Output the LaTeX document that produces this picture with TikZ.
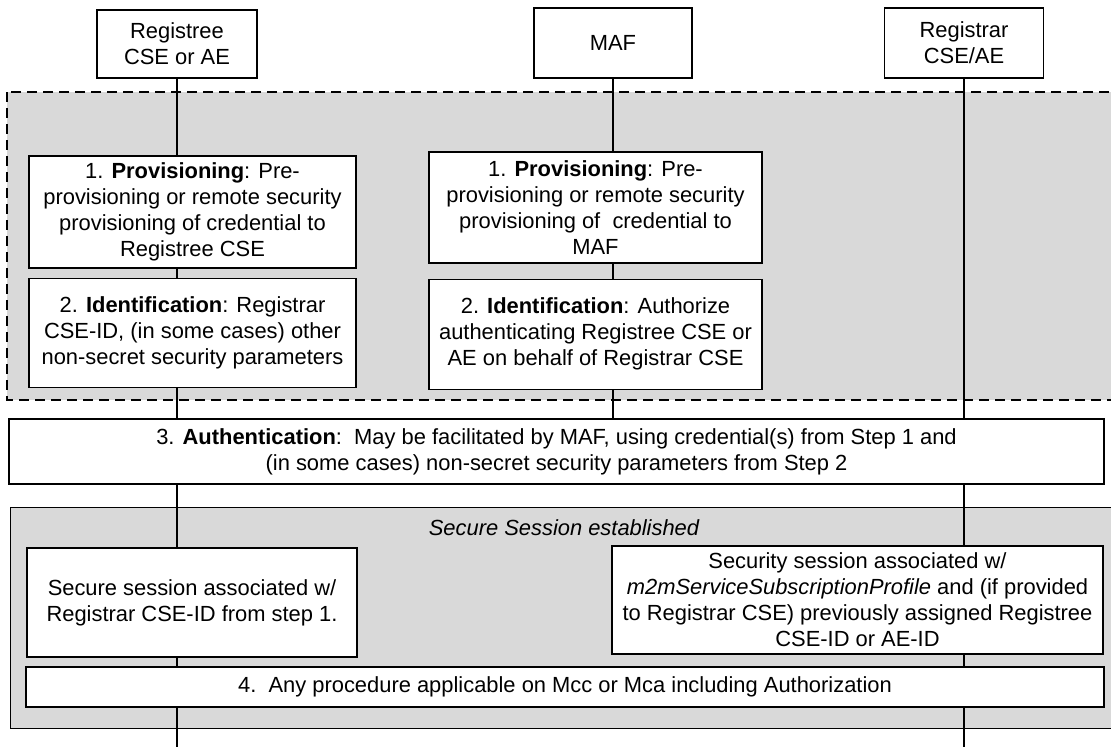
\documentclass[tikz,border=0pt]{standalone}
\usepackage{fontspec}
\setmainfont{Liberation Sans}
\usepackage{tikz}
\usetikzlibrary{positioning}
\definecolor{sqShade}{HTML}{D9D9D9}
\definecolor{sqInk}{HTML}{000000}
\tikzset{
  sq diagram/.style={font=\fontsize{21.9}{26}\selectfont, text=sqInk},
  sq box/.style={draw=sqInk, fill=white, line width=1.3pt,
    align=center, inner sep=0pt},
  sq entity/.style={sq box, minimum width=159pt, minimum height=70pt},
  sq step/.style={sq box, minimum width=327pt, minimum height=111pt},
  sq region/.style={fill=sqShade, draw=sqInk, line width=1pt},
  sq scope/.style={sq region, line width=1.3pt, dash pattern=on 10pt off 6pt},
  sq life/.style={draw=sqInk, line width=1.3pt},
  sq label/.style={font=\fontsize{21.9}{26}\selectfont\itshape}
}

\begin{document}
\begin{tikzpicture}[sq diagram, x=1pt, y=-1pt]
\useasboundingbox (0,0) rectangle (1111,747);
% shaded scopes
\draw[sq scope] (7,92) rectangle (1130,400);
\draw[sq region] (10,507) rectangle (1130,728);
\node[sq label] (seslbl) at (564,528) {Secure Session established};
% entities and lifelines
\node[sq entity, minimum width=160pt, minimum height=68pt] (reg) at (177,44) {Registree\\CSE or AE};
\node[sq entity, minimum width=158pt] (maf) at (613,43) {MAF};
\node[sq entity] (rar) at (964,43) {Registrar\\CSE/AE};
\coordinate (bottom) at (0,747);
\coordinate (authtop) at (0,419);
\foreach \who in {reg,rar}
  \draw[sq life] (\who.south) -- (\who.south |- bottom);
\draw[sq life] (maf.south) -- (maf.south |- authtop);
% steps 1 and 2
\node[sq step, minimum height=112pt] (provreg) at (192.5,212) {1. \textbf{Provisioning}: Pre-\\provisioning or remote security\\provisioning of credential to\\Registree CSE};
\node[sq step, minimum height=109pt, below=9pt of provreg] (identreg) {2. \textbf{Identification}: Registrar\\CSE-ID, (in some cases) other\\non-secret security parameters};
\node[sq step, minimum width=333pt] (provmaf) at (595.5,207.5) {1. \textbf{Provisioning}: Pre-\\provisioning or remote security\\provisioning of\ \ credential to\\MAF};
\node[sq step, minimum width=333pt, minimum height=110pt, below=15pt of provmaf] (identmaf) {2. \textbf{Identification}: Authorize\\authenticating Registree CSE or\\AE on behalf of Registrar CSE};
% step 3
\node[sq box, minimum width=1095pt, minimum height=65pt] (auth) at (556.5,451.5) {3. \textbf{Authentication}:\ \ May be facilitated by MAF, using credential(s) from Step 1 and\\(in some cases) non-secret security parameters from Step 2};
% secure session
\node[sq box, minimum width=330pt, minimum height=109pt] (sesreg) at (192,602.5) {Secure session associated w/\\Registrar CSE-ID from step 1.};
\node[sq box, minimum width=491pt, minimum height=108pt] (sesrar) at (857.5,600) {Security session associated w/\\\textit{m2mServiceSubscriptionProfile} and (if provided\\to Registrar CSE) previously assigned Registree\\CSE-ID or AE-ID};
\node[sq box, minimum width=1078pt, minimum height=40pt] (proc) at (565,687) {4.\ \ Any procedure applicable on Mcc or Mca including Authorization};
\end{tikzpicture}
\end{document}
